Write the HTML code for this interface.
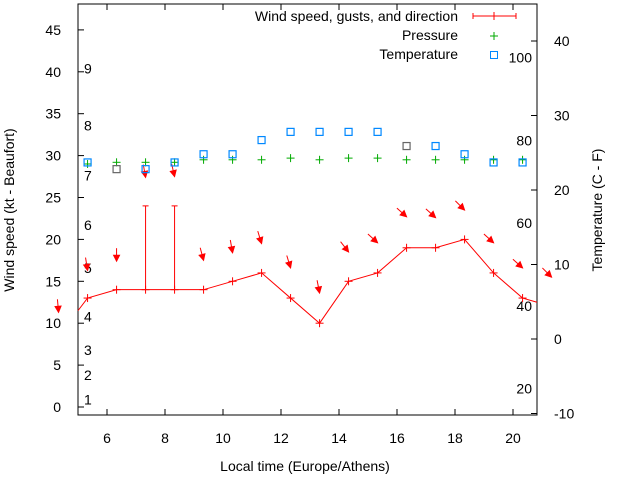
<!DOCTYPE html>
<html><head><meta charset="utf-8"><style>
html,body{margin:0;padding:0;background:#fff}
svg{display:block;font-family:"Liberation Sans",sans-serif}
</style></head><body>
<svg id="chart" width="640" height="480" viewBox="0 0 640 480" xmlns="http://www.w3.org/2000/svg">
<rect x="0" y="0" width="640" height="480" fill="#fff"/>
<g id="axes"></g>
<g id="marks"></g>
<text x="14" y="210" font-size="14" text-anchor="middle" transform="rotate(-90 14 210)">Wind speed (kt - Beaufort)</text>
<text x="602" y="210" font-size="14" text-anchor="middle" transform="rotate(-90 602 210)">Temperature (C - F)</text>
<text x="305" y="471" font-size="14" text-anchor="middle">Local time (Europe/Athens)</text>
<g>
<text x="458" y="21" font-size="14" text-anchor="end">Wind speed, gusts, and direction</text>
<g stroke="#f00" stroke-width="1"><line x1="473" y1="16" x2="516" y2="16"/><line x1="473" y1="13" x2="473" y2="19"/><line x1="516" y1="13" x2="516" y2="19"/><line x1="494" y1="12" x2="494" y2="20"/></g>
<text x="458" y="40" font-size="14" text-anchor="end">Pressure</text>
<g stroke="#0a0"><line x1="490" y1="36" x2="498" y2="36"/><line x1="494" y1="32" x2="494" y2="40"/></g>
<text x="458" y="59" font-size="14" text-anchor="end">Temperature</text>
<rect x="490.5" y="51.5" width="7" height="7" fill="none" stroke="#08f"/>
</g>
</svg>
<script>
const hours=[5.33,6.33,7.33,8.33,9.33,10.33,11.33,12.33,13.33,14.33,15.33,16.33,17.33,18.33,19.33,20.33];
const windSpeed=[13,14,14,14,14,15,16,13,10,15,16,19,19,20,16,13];
const gusts=[null,null,24,24,null,null,null,null,null,null,null,null,null,null,null,null];
const arrowLevel=[16.3,17.4,27.4,27.5,17.5,18.4,19.5,16.6,13.6,18.5,19.6,22.7,22.6,23.5,19.6,16.6];
const windDir=[351,0,350,347,345,350,343,343,349,322,312,312,312,315,312,312];
const pressure=[29.0,29.2,29.2,29.2,29.5,29.5,29.5,29.7,29.5,29.7,29.7,29.5,29.5,29.5,29.5,29.5];
const temperature=[23.7,22.8,22.8,23.7,24.8,24.8,26.7,27.8,27.8,27.8,27.8,25.9,25.9,24.8,23.7,23.7];
const tempGray=[false,true,false,false,false,false,false,false,false,false,false,true,false,false,false,false];
const xTicks=[6,8,10,12,14,16,18,20];
const yTicks=[0,5,10,15,20,25,30,35,40,45];
const y2Ticks=[-10,0,10,20,30,40];
const fTicks=[20,40,60,80,100];
const beaufortLabels=[1,2,3,4,5,6,7,8,9];
const beaufortKt=[0.9,3.8,6.8,10.8,16.6,21.7,27.6,33.6,40.4];

const L=78,R=537,T=4,B=415;
const X=h=>107+(h-6)*29;
const Y=v=>407-v*8.38;
const Y2=c=>339-c*7.45;
const NS='http://www.w3.org/2000/svg';
function mk(tag,attrs,parent){const e=document.createElementNS(NS,tag);for(const k in attrs)e.setAttribute(k,attrs[k]);parent.appendChild(e);return e;}
const axes=document.getElementById('axes'),marks=document.getElementById('marks');

const frame=mk('rect',{x:L,y:T,width:R-L,height:B-T,fill:'none',stroke:'#000','stroke-width':1},axes);


xTicks.forEach(h=>{
 const x=X(h);
 mk('line',{x1:x,y1:B,x2:x,y2:B-6,stroke:'#000'},axes);
 mk('line',{x1:x,y1:T,x2:x,y2:T+6,stroke:'#000'},axes);
 const t=mk('text',{x:x,y:443,'font-size':14,'text-anchor':'middle'},axes);t.textContent=h;
 
 
});
yTicks.forEach(v=>{
 const y=Y(v);
 mk('line',{x1:L,y1:y,x2:L+6,y2:y,stroke:'#000'},axes);
 const t=mk('text',{x:61,y:y+5,'font-size':14,'text-anchor':'end'},axes);t.textContent=v;
 
 
});
y2Ticks.forEach(c=>{
 const y=Y2(c);
 mk('line',{x1:R,y1:y,x2:R-6,y2:y,stroke:'#000'},axes);
 const t=mk('text',{x:554,y:y+5,'font-size':14,'text-anchor':'start'},axes);t.textContent=c;
 
 
});
fTicks.forEach(f=>{
 const t=mk('text',{x:532,y:Y2((f-32)*5/9)+5,'font-size':14,'text-anchor':'end'},axes);t.textContent=f;
 
 
});
beaufortLabels.forEach((b,i)=>{
 const t=mk('text',{x:84,y:Y(beaufortKt[i])+5,'font-size':14},axes);t.textContent=b;
 
 
});

// wind line (extended to edges)
const pts=hours.map((h,i)=>X(h)+','+Y(windSpeed[i]));
const line=mk('polyline',{points:L+','+Y(11.5)+' '+pts.join(' ')+' '+R+','+Y(12.5),fill:'none',stroke:'#f00','stroke-width':1},marks);


hours.forEach((h,i)=>{
 const x=X(h),y=Y(windSpeed[i]);
 const g=mk('g',{stroke:'#f00','stroke-width':1},marks);
 
 
 mk('line',{x1:x-4,y1:y,x2:x+4,y2:y},g);mk('line',{x1:x,y1:y-4,x2:x,y2:y+4},g);
 if(gusts[i]!=null){
  const gy=Y(gusts[i]);
  mk('line',{x1:x,y1:y,x2:x,y2:gy},g);mk('line',{x1:x-3,y1:gy,x2:x+3,y2:gy},g);
 }
});
// wind arrows
function arrow(x,lvl,dir){
 const r=dir*Math.PI/180,dx=-Math.sin(r),dy=Math.cos(r);
 const hx=x,hy=Y(lvl),tx=hx-dx*13,ty=hy-dy*13;
 const g=mk('g',{stroke:'#f00',fill:'#f00','stroke-width':1},marks);
 
 
 mk('line',{x1:tx,y1:ty,x2:hx,y2:hy},g);
 const px=-dy,py=dx;
 mk('polygon',{points:`${hx},${hy} ${hx-dx*6+px*3},${hy-dy*6+py*3} ${hx-dx*6-px*3},${hy-dy*6-py*3}`},g);
}
hours.forEach((h,i)=>arrow(X(h),arrowLevel[i],windDir[i]));
arrow(X(4.33),11.3,355);
arrow(X(21.33),15.5,315);
// pressure
pressure.forEach((p,i)=>{
 const x=X(hours[i]),y=Y(p);
 const g=mk('g',{stroke:tempGray[i]&&false?'#888':'#0a0','stroke-width':1},marks);
 
 
 mk('line',{x1:x-4,y1:y,x2:x+4,y2:y},g);mk('line',{x1:x,y1:y-4,x2:x,y2:y+4},g);
});
// temperature
temperature.forEach((c,i)=>{
 const x=X(hours[i]),y=Y2(c);
 const r=mk('rect',{x:x-3.5,y:y-3.5,width:7,height:7,fill:'none',stroke:tempGray[i]?'#666':'#08f','stroke-width':1.2},marks);
 
 
});
</script>
</body></html>
